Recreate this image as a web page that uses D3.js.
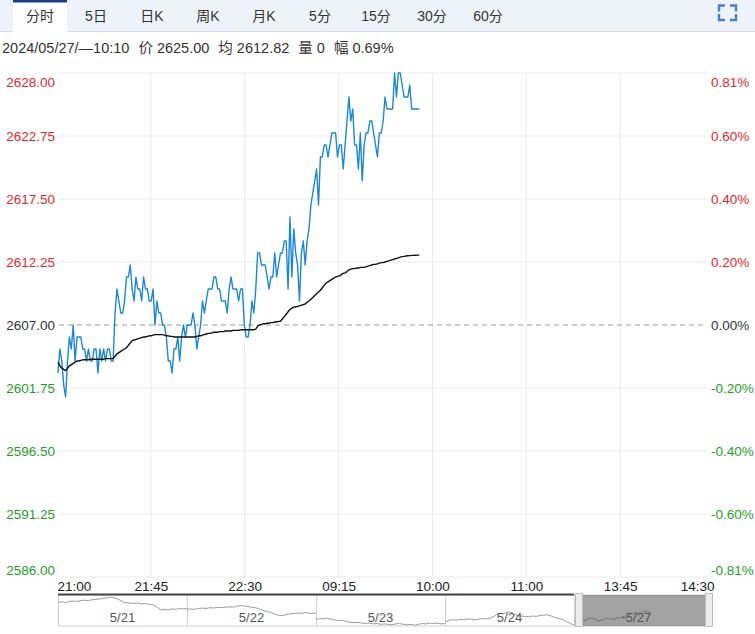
<!DOCTYPE html>
<html><head><meta charset="utf-8">
<script src="https://cdn.jsdelivr.net/npm/d3@7/dist/d3.min.js"></script>
<style>
body{margin:0;background:#fff;}
svg{display:block;font-family:"Liberation Sans",Arial,"Noto Sans CJK SC",sans-serif;}
</style>
</head><body>
<svg id="chart" width="755" height="634"></svg>
<script>
// ---------- DATA ----------
const tabs = ["分时","5日","日K","周K","月K","5分","15分","30分","60分"];
const infoItems = ["2024/05/27/—10:10", "价 2625.00", "均 2612.82", "量 0", "幅 0.69%"];
const prevClose = 2607;
const totalMinutes = 345;
const timeTicks = ["21:00","21:45","22:30","09:15","10:00","11:00","13:45","14:30"];
const priceTicks = [2628.00, 2622.75, 2617.50, 2612.25, 2607.00, 2601.75, 2596.50, 2591.25, 2586.00];
const pctTicks = ["0.81%","0.60%","0.40%","0.20%","0.00%","-0.20%","-0.40%","-0.60%","-0.81%"];

// price per minute, 5/27 session up to 10:10
const prices = [
2603,2605,2604,2602,2601,2604,2606,2605,2607,2604,
2606,2606,2606,2605,2605,2604,2605,2604,2604,2605,
2605,2603,2605,2604,2605,2604,2605,2605,2604,2604,
2608,2610,2609,2608,2608,2609,2611,2611,2612,2610,
2609,2611,2610,2610,2609,2611,2610,2610,2609,2609,
2610,2607,2609,2608,2608,2607,2607,2606,2604,2604,
2603,2605,2605,2606,2604,2606,2607,2606,2607,2607,
2607,2608,2607,2605,2606,2607,2609,2608,2609,2610,
2610,2610,2611,2611,2610,2610,2609,2609,2609,2608,
2610,2611,2610,2610,2610,2609,2610,2610,2607,2606,
2606,2607,2609,2608,2610,2613,2613,2612,2612,2612,
2611,2610,2611,2611,2613,2611,2612,2613,2613,2614,
2614,2610,2616,2611,2615,2613,2612,2609,2613,2614,
2612,2614,2615,2617,2618,2619,2620,2617,2621,2621,
2622,2622,2621,2622,2623,2623,2623,2621,2622,2622,
2620,2622,2624,2626,2624,2625,2622,2622,2620,2623,
2619,2622,2623,2623,2624,2624,2623,2622,2621,2623,
2623,2624,2626,2625,2625,2625,2625,2628,2626,2628,
2628,2627,2626,2626,2626,2627,2625,2625,2625,2625,2625
];
// average price per minute
const avgPrices = [
2603.9,2603.6,2603.4,2603.3,2603.2,2603.4,2603.6,2603.7,2603.8,2603.9,
2604.0,2604.0,2604.05,2604.1,2604.1,2604.1,2604.1,2604.15,2604.15,2604.15,
2604.15,2604.15,2604.15,2604.15,2604.15,2604.2,2604.2,2604.2,2604.2,2604.2,
2604.4,2604.6,2604.7,2604.8,2604.9,2605.0,2605.1,2605.3,2605.5,2605.7,
2605.75,2605.8,2605.85,2605.9,2605.95,2606.0,2606.0,2606.05,2606.1,2606.1,
2606.15,2606.2,2606.2,2606.2,2606.2,2606.2,2606.15,2606.1,2606.1,2606.05,
2606.05,2606.0,2606.0,2606.0,2606.0,2606.0,2606.0,2606.0,2606.0,2606.0,
2606.0,2606.0,2606.0,2606.05,2606.1,2606.1,2606.15,2606.2,2606.25,2606.3,
2606.3,2606.35,2606.4,2606.4,2606.4,2606.45,2606.45,2606.45,2606.5,2606.5,
2606.5,2606.5,2606.55,2606.55,2606.55,2606.55,2606.6,2606.6,2606.6,2606.6,
2606.6,2606.6,2606.6,2606.6,2606.65,2606.9,2607.0,2607.05,2607.1,2607.1,
2607.15,2607.15,2607.2,2607.2,2607.25,2607.25,2607.3,2607.3,2607.5,2607.7,
2607.9,2608.1,2608.3,2608.4,2608.5,2608.5,2608.55,2608.6,2608.65,2608.7,
2608.75,2608.9,2609.0,2609.15,2609.3,2609.45,2609.6,2609.75,2609.9,2610.1,
2610.3,2610.5,2610.6,2610.7,2610.8,2610.9,2611.0,2611.05,2611.1,2611.2,
2611.3,2611.35,2611.45,2611.6,2611.65,2611.7,2611.7,2611.75,2611.75,2611.8,
2611.8,2611.8,2611.85,2611.9,2611.95,2612.0,2612.05,2612.05,2612.1,2612.15,
2612.2,2612.2,2612.25,2612.3,2612.35,2612.4,2612.45,2612.5,2612.55,2612.6,
2612.65,2612.7,2612.72,2612.75,2612.77,2612.78,2612.8,2612.8,2612.81,2612.82,2612.82
];

// navigator: previous days (coarse samples across each full session)
const navDays = ["5/21","5/22","5/23","5/24","5/27"];
const nav0521 = [2649,2650,2648,2651,2652,2651,2653,2654,2653,2655,2656,2657,2658,2660,2661,2659,2656,2650,2648,2647,2646,2647,2645,2646,2644,2643,2638,2631,2632,2630,2633,2632,2634,2633,2634];
const nav0522 = [2632,2633,2632,2634,2635,2634,2636,2635,2637,2636,2637,2638,2637,2639,2641,2640,2639,2637,2636,2633,2630,2627,2625,2621,2618,2617,2619,2621,2622,2623,2622,2624,2623,2622,2623];
const nav0523 = [2608,2610,2609,2611,2608,2607,2605,2606,2603,2601,2600,2601,2599,2598,2599,2597,2598,2596,2597,2596,2595,2597,2598,2596,2595,2596,2594,2596,2598,2597,2599,2598,2599,2597,2598];
const nav0524 = [2603,2605,2607,2606,2608,2607,2609,2608,2607,2609,2610,2609,2611,2616,2622,2621,2624,2626,2622,2617,2616,2615,2614,2616,2615,2617,2618,2619,2616,2612,2610,2608,2603,2598,2595];
const navPast = [nav0521, nav0522, nav0523, nav0524];

// ---------- DRAW ----------
const svg = d3.select("#chart");
const W = 755;
const red = "#e0282d", green = "#1f9e28", neutral = "#333";
const colorOf = v => v > prevClose + 1e-9 ? red : (v < prevClose - 1e-9 ? green : neutral);

// tab bar
svg.append("rect").attr("x",0).attr("y",0).attr("width",W).attr("height",31.5).attr("fill","#eef3fa");
svg.append("line").attr("x1",0).attr("x2",W).attr("y1",31.5).attr("y2",31.5).attr("stroke","#d6deea");
svg.append("rect").attr("x",13).attr("y",0).attr("width",54).attr("height",32).attr("fill","#fff");
svg.append("rect").attr("x",13).attr("y",0).attr("width",54).attr("height",2.5).attr("fill","#1d3e7e");
const tabX = d3.scalePoint().domain(tabs).range([40, 488]);
svg.append("g").selectAll("text").data(tabs).join("text")
  .attr("x", d => tabX(d)).attr("y", 20.5).attr("text-anchor","middle")
  .attr("font-size","14px").attr("fill","#333").text(d => d);
// fullscreen icon
const ic = svg.append("g").attr("fill","none").attr("stroke","#4a80c8").attr("stroke-width",2.4);
ic.append("path").attr("d","M719,11.5V5.5H725");
ic.append("path").attr("d","M730,5.5H736V11.5");
ic.append("path").attr("d","M719,14V20H725");
ic.append("path").attr("d","M730,20H736V14");

// info line
svg.append("text").attr("x",2).attr("y",53).attr("font-size","14.5px").attr("fill","#333")
  .selectAll("tspan").data(infoItems).join("tspan")
  .attr("dx", (d,i) => i === 0 ? 0 : 9).text(d => d);

// scales
const plotL = 58, plotR = 714, plotT = 73, plotB = 577;
const x = d3.scaleLinear().domain([0, totalMinutes]).range([plotL, plotR]);
const y = d3.scaleLinear().domain([2586, 2628]).range([plotB, plotT]);
const xt = d3.scalePoint().domain(timeTicks).range([57, 714]);

// gridlines
const grid = svg.append("g");
grid.selectAll("line.h").data(priceTicks.filter(d => d !== prevClose)).join("line")
  .attr("x1", 59).attr("x2", 707).attr("y1", d => y(d)).attr("y2", d => y(d))
  .attr("stroke","#ebebeb");
grid.selectAll("line.v").data(timeTicks.slice(1, -1)).join("line")
  .attr("x1", d => xt(d)).attr("x2", d => xt(d)).attr("y1", plotT).attr("y2", plotB)
  .attr("stroke","#ebebeb");
grid.append("line").attr("x1",59).attr("x2",706).attr("y1",y(prevClose)).attr("y2",y(prevClose))
  .attr("stroke","#9a9a9a").attr("stroke-dasharray","5,4");

// axes
const fs = "13.5px";
const leftAxis = svg.append("g").attr("transform",`translate(${plotL-1},0)`)
  .call(d3.axisLeft(y).tickValues(priceTicks).tickFormat(d3.format(".2f")).tickSize(0).tickPadding(2));
const rightAxis = svg.append("g").attr("transform",`translate(709,0)`)
  .call(d3.axisRight(y).tickValues(priceTicks).tickFormat((d,i) => pctTicks[i]).tickSize(0).tickPadding(2));
[leftAxis, rightAxis].forEach(g => {
  g.select(".domain").remove();
  g.selectAll("text").attr("font-size", fs).attr("font-family",'"Liberation Sans",Arial,sans-serif')
    .attr("fill", d => colorOf(d))
    .attr("dy", d => d === 2628 ? "1.0em" : (d === 2586 ? "-0.2em" : "0.35em"));
});
const bottomAxis = svg.append("g").attr("transform",`translate(0,577)`)
  .call(d3.axisBottom(xt).tickSize(0).tickPadding(4));
bottomAxis.select(".domain").remove();
bottomAxis.selectAll("text").attr("font-size", fs).attr("fill","#222")
  .attr("font-family",'"Liberation Sans",Arial,sans-serif')
  .attr("text-anchor", (d,i) => i === 0 ? "start" : (i === timeTicks.length-1 ? "end" : "middle"));

// lines
const priceLine = d3.line().x((d,i) => x(i)).y(d => y(d));
svg.append("path").datum(prices).attr("d", priceLine)
  .attr("fill","none").attr("stroke","#1d87cf").attr("stroke-width",1.4).attr("stroke-linejoin","round");
svg.append("path").datum(avgPrices).attr("d", priceLine)
  .attr("fill","none").attr("stroke","#111").attr("stroke-width",1.4).attr("stroke-linejoin","round");

// navigator
const navT = 595, navB = 626;
const nx = d3.scaleLinear().domain([0, 5]).range([58, 703]);
const ny = d3.scaleLinear().domain([2592, 2664]).range([navB, navT + 1]);
const nav = svg.append("g");
nav.append("rect").attr("x",58.5).attr("y",navT).attr("width",654).attr("height",navB-navT)
  .attr("fill","#fff").attr("stroke","#d0d0d0");
nav.selectAll("line.div").data([1,2,3,4]).join("line")
  .attr("x1", d => nx(d)+0.5).attr("x2", d => nx(d)+0.5).attr("y1", navT).attr("y2", navB)
  .attr("stroke","#d0d0d0");
navPast.forEach((arr, d) => {
  nav.append("path").datum(arr)
    .attr("d", d3.line().x((v,j) => nx(d + j/(arr.length-1))).y(v => ny(v)))
    .attr("fill","none").attr("stroke","#9c9c9c").attr("stroke-width",1);
});
nav.append("path").datum(prices)
  .attr("d", d3.line().x((v,j) => nx(4) + (j/totalMinutes)*(713 - nx(4))).y(v => ny(v)))
  .attr("fill","none").attr("stroke","#9c9c9c").attr("stroke-width",1);
nav.append("line").attr("x1",58).attr("x2",nx(4)).attr("y1",594.5).attr("y2",594.5)
  .attr("stroke","#444").attr("stroke-width",2);
// selected window
nav.append("rect").attr("x",583).attr("y",navT).attr("width",122).attr("height",navB-navT)
  .attr("fill","#555").attr("fill-opacity",0.55);
nav.selectAll("rect.handle").data([575.5, 705.5]).join("rect")
  .attr("x", d => d).attr("y", 593.5).attr("width",7).attr("height",33)
  .attr("fill","#ececec").attr("stroke","#bdbdbd");
nav.selectAll("text").data(navDays).join("text")
  .attr("x", (d,i) => nx(i + 0.5)).attr("y", 622).attr("text-anchor","middle")
  .attr("font-size","13px").attr("fill","#555").text(d => d);
</script>
</body></html>
